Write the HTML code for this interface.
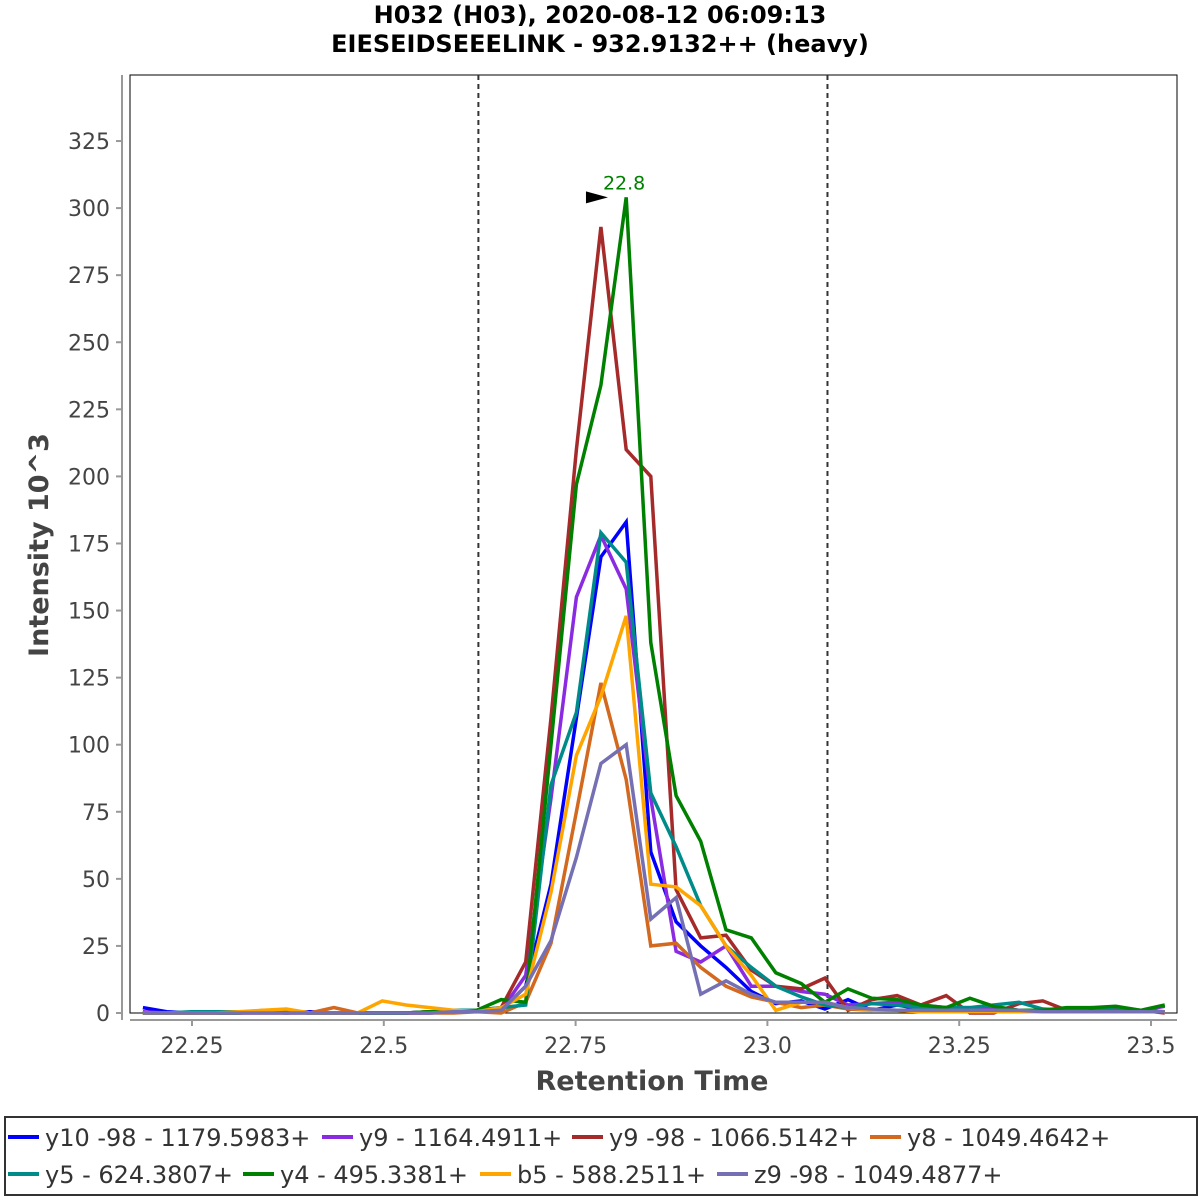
<!DOCTYPE html>
<html><head><meta charset="utf-8"><style>
html,body{margin:0;padding:0;background:#fff;width:1200px;height:1200px;overflow:hidden}
svg{display:block;font-family:"DejaVu Sans","Liberation Sans",sans-serif}
</style></head><body>
<svg id="chart" width="1200" height="1200" viewBox="0 0 1200 1200">
<text x="600" y="23" text-anchor="middle" font-size="24" font-weight="bold" fill="#000">H032 (H03), 2020-08-12 06:09:13</text>
<text x="600" y="52" text-anchor="middle" font-size="24" font-weight="bold" fill="#000">EIESEIDSEEELINK - 932.9132++ (heavy)</text>
<rect x="130" y="75" width="1047" height="938" fill="#fff" stroke="#000" stroke-width="1"/>
<line x1="122" y1="75" x2="122" y2="1020" stroke="#999" stroke-width="2"/>
<line x1="130" y1="1020" x2="1177" y2="1020" stroke="#999" stroke-width="2"/>
<g id="yticks"></g><g id="xticks"></g>
<g id="series"></g>
<g id="annot"></g>
<text x="0" y="0" transform="translate(48,545) rotate(-90)" text-anchor="middle" font-size="27" font-weight="bold" fill="#444">Intensity 10^3</text>
<text x="652" y="1090" text-anchor="middle" font-size="27" font-weight="bold" fill="#444">Retention Time</text>
<g>
<rect x="5" y="1117" width="1192" height="78" fill="#fff" stroke="#333" stroke-width="2"/>
<g id="legend"></g>
</g>
</svg>
<script>
const NS="http://www.w3.org/2000/svg";
const times=[22.186,22.217,22.249,22.280,22.311,22.343,22.373,22.404,22.435,22.466,22.498,22.529,22.560,22.591,22.621,22.653,22.685,22.718,22.751,22.783,22.816,22.848,22.881,22.913,22.946,22.979,23.011,23.044,23.075,23.105,23.136,23.169,23.200,23.233,23.264,23.295,23.328,23.359,23.390,23.423,23.454,23.487,23.518];
const seriesNames=["y10 -98 - 1179.5983+","y9 - 1164.4911+","y9 -98 - 1066.5142+","y8 - 1049.4642+","y5 - 624.3807+","y4 - 495.3381+","b5 - 588.2511+","z9 -98 - 1049.4877+"];
const seriesColors=["#0000ff","#8a2be2","#a52a2a","#d2691e","#008b8b","#008000","#ffa500","#7570b3"];
const y10=[2,0.5,0,0.5,0.5,0.5,0,0.5,0,0,0,0,0,0.5,0.5,1,10,48,110,170,183,60,34,25,17,8,3.5,4.5,1.5,5,1,3,1.5,2,1.5,1,0.5,0.5,1,1,0.5,0.5,0.5];
const y9=[0.5,0,0,0,0,0.5,0.5,0,0,0,0,0,0.5,0.5,0.5,1,14,80,155,178,158,80,23,19,25,10,10,8,7,3,3.5,4,3,2,2,1.5,1,1,1,1,1,1,2.5];
const y9m98=[0,0,0,0,0,0,0,0,0,0,0,0,0.5,0.5,1,2,19,110,210,293,210,200,46,28,29,16,10,9,13,1,5,6.5,3,6.5,0,0,3.5,4.5,1,1,1.5,1,0];
const y8=[0,0,0,0,0,1,0.5,0,2,0,0,0,0,0,0.5,0,4,26,75,123,87,25,26,17,10,6,4,2,3,1.5,1,1,0.5,0.5,0.5,0.5,0.5,0.5,0.5,0.5,0.5,0.5,0.5];
const y5=[0,0,0.5,0.5,0.5,0.5,0.5,0,0,0,0,0,0.5,1,1,2,3,85,112,179,168,82,62,40,25,17,10,6,3,2,3.5,3,2,2,2,3,4,1.5,1,2,1,1,0.5];
const y4=[0,0,0,0,0,0.5,1,0,0,0,0,0,0.5,0.5,1,5,4,100,197,234,304,138,81,64,31,28,15,11,4,9,5.5,5,3,2,5.5,2.5,1,1,2,2,2.5,1,3];
const b5=[0,0,0,0,0.5,1,1.5,0,0,0,4.5,3,2,1,0.5,2,7,45,96,118,148,48,47,40,25,14,1,4,4,2,1,1,0.5,0.5,0.5,0.5,0.5,0.5,0.5,0.5,0.5,0.5,0.5];
const z9=[0,0,0,0,0,0,0,0,0,0,0,0,0,0.5,0.5,1,10,27,58,93,100,35,43,7,12,7,4,4,4,2,1.5,1,1,1,1,1,1,0.5,0.5,0.5,0.5,0.5,0.5];
const seriesValues=[y10,y9,y9m98,y8,y5,y4,b5,z9];
const yTicks=[0,25,50,75,100,125,150,175,200,225,250,275,300,325];
const xTicks=[22.25,22.5,22.75,23.0,23.25,23.5];
const xTickLabels=["22.25","22.5","22.75","23.0","23.25","23.5"];
const boundaries=[22.6233,23.0783];
const peakTime=22.8;
const peakValue=304;
function X(t){return 192+(t-22.25)*767.2;}
function Y(v){return 1013-v*2.683;}
function mk(tag,attrs,parent){const e=document.createElementNS(NS,tag);for(const k in attrs)e.setAttribute(k,attrs[k]);parent.appendChild(e);return e;}
const yt=document.getElementById('yticks');
yTicks.forEach(v=>{
 const l=mk('line',{x1:116,x2:122,y1:Y(v),y2:Y(v),stroke:'#999','stroke-width':2},yt);
 
 
 const t=mk('text',{x:110,y:Y(v)+8,'text-anchor':'end','font-size':22,fill:'#444'},yt);
 t.textContent=v;
 
 
});
const xt=document.getElementById('xticks');
xTicks.forEach((v,i)=>{
 const l=mk('line',{x1:X(v),x2:X(v),y1:1020,y2:1026,stroke:'#999','stroke-width':2},xt);
 
 
 const t=mk('text',{x:X(v),y:1053,'text-anchor':'middle','font-size':22,fill:'#444'},xt);
 t.textContent=xTickLabels[i];
 
 
});
const sg=document.getElementById('series');
boundaries.forEach(b=>{
 const l=mk('line',{x1:X(b),x2:X(b),y1:75,y2:1013,stroke:'#333','stroke-width':2,'stroke-dasharray':'5,4'},sg);
 
 
});
seriesValues.forEach((vals,si)=>{
 const pts=vals.map((v,i)=>X(times[i]).toFixed(1)+','+Y(v).toFixed(1)).join(' ');
 const p=mk('polyline',{points:pts,fill:'none',stroke:seriesColors[si],'stroke-width':3.5,'stroke-linejoin':'miter'},sg);
 
 
});
const an=document.getElementById('annot');
const px=X(peakTime), py=Y(peakValue);
const tri=mk('polygon',{points:(px-28)+','+(py-6)+' '+(px-6)+','+py+' '+(px-28)+','+(py+6),fill:'#000'},an);


const pt=mk('text',{x:px-11,y:py-8,'font-size':19,fill:'#008000'},an);
pt.textContent=peakTime.toFixed(1);


const lg=document.getElementById('legend');
const legX=[8,322,572,870,8,243,480,717];
const legY=[1137,1137,1137,1137,1174,1174,1174,1174];
seriesNames.forEach((n,i)=>{
 const g=mk('g',{},lg);
 
 
 mk('line',{x1:legX[i],x2:legX[i]+31,y1:legY[i],y2:legY[i],stroke:seriesColors[i],'stroke-width':4},g);
 const t=mk('text',{x:legX[i]+37,y:legY[i]+9,'font-size':24,fill:'#333'},g);
 t.textContent=n;
});
</script>
</body></html>
